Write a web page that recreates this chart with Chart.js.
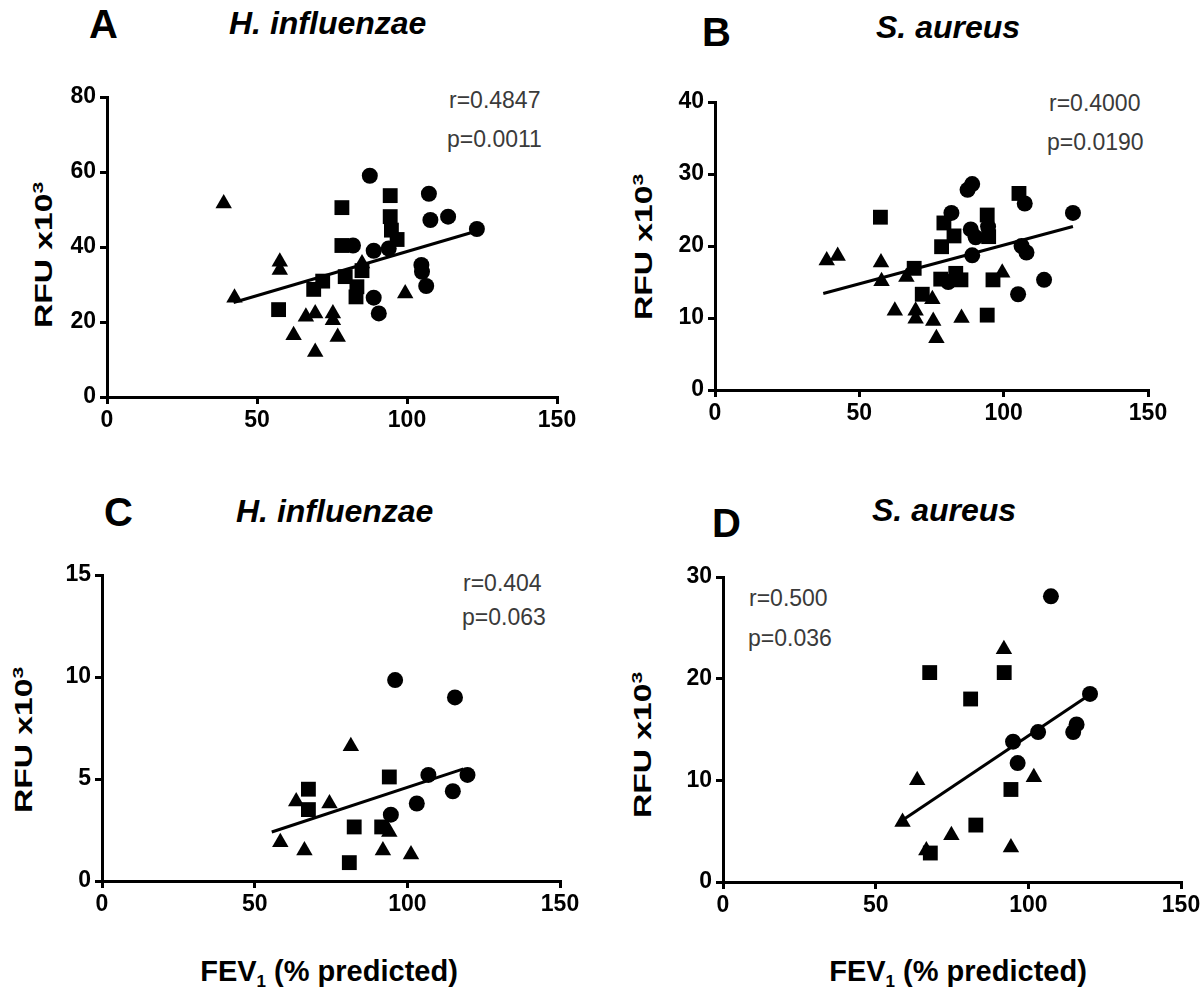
<!DOCTYPE html>
<html>
<head>
<meta charset="utf-8">
<script src="https://cdn.jsdelivr.net/npm/chart.js@4/dist/chart.umd.min.js"></script>
<style>
  body { margin: 0; background: #fff; }
  #page { position: relative; width: 1200px; height: 996px; overflow: hidden; font-family: "Liberation Sans", Arial, sans-serif; }
  canvas { position: absolute; }
  .txt { position: absolute; line-height: 1; white-space: nowrap; }
  .letter { font-size: 40px; font-weight: bold; }
  .title { font-size: 32px; font-weight: bold; font-style: italic; }
  .stat { font-size: 23px; color: #3a3a3a; }
  .ytitle { font-size: 24px; font-weight: bold; transform: translate(-50%, -50%) rotate(-90deg) scaleX(1.4); }
  .ytitle sup { font-size: 15px; vertical-align: 9px; }
  .xtitle { font-size: 29px; font-weight: bold; transform: translateX(-50%); }
  .xtitle sub { font-size: 17px; vertical-align: -6px; }
</style>
</head>
<body>
<div id="page">
  <div class="txt letter" style="left:89px;top:4px">A</div>
  <div class="txt title" style="left:229px;top:7px">H. influenzae</div>
  <div class="txt letter" style="left:702px;top:12px">B</div>
  <div class="txt title" style="left:876px;top:11px">S. aureus</div>
  <div class="txt letter" style="left:104px;top:492px">C</div>
  <div class="txt title" style="left:236px;top:495px">H. influenzae</div>
  <div class="txt letter" style="left:712px;top:503px">D</div>
  <div class="txt title" style="left:872px;top:494px">S. aureus</div>

  <div class="txt stat" style="left:449px;top:89px">r=0.4847</div>
  <div class="txt stat" style="left:447px;top:128px">p=0.0011</div>
  <div class="txt stat" style="left:1049px;top:92px">r=0.4000</div>
  <div class="txt stat" style="left:1047px;top:131px">p=0.0190</div>
  <div class="txt stat" style="left:463px;top:572px">r=0.404</div>
  <div class="txt stat" style="left:462px;top:606px">p=0.063</div>
  <div class="txt stat" style="left:749px;top:587px">r=0.500</div>
  <div class="txt stat" style="left:748px;top:627px">p=0.036</div>

  <div class="txt ytitle" style="left:43px;top:255px">RFU x10<sup>3</sup></div>
  <div class="txt ytitle" style="left:643px;top:247px">RFU x10<sup>3</sup></div>
  <div class="txt ytitle" style="left:23px;top:740px">RFU x10<sup>3</sup></div>
  <div class="txt ytitle" style="left:642px;top:745px">RFU x10<sup>3</sup></div>

  <div class="txt xtitle" style="left:329px;top:957px">FEV<sub>1</sub> (% predicted)</div>
  <div class="txt xtitle" style="left:958px;top:957px">FEV<sub>1</sub> (% predicted)</div>

  <canvas id="chartA"></canvas>
  <canvas id="chartB"></canvas>
  <canvas id="chartC"></canvas>
  <canvas id="chartD"></canvas>
</div>
<script>
//Panel A - H. influenzae (upper)
var aTriangles = [[38.9,51.6],[42.5,26.5],[57.6,36.1],[57.6,33.9],[62.2,16.5],[66.3,21.4],[69.4,22.3],[69.4,12.0],[75.3,22.3],[75.3,20.5],[76.9,16.0],[85.0,35.6],[99.4,27.6]];
var aSquares = [[57.2,23.3],[68.9,28.7],[71.9,30.9],[78.3,50.5],[78.3,40.4],[79.4,32.1],[83.3,29.4],[83.0,26.7],[85.0,33.7],[94.4,53.7],[94.4,48.1],[94.8,44.5],[96.7,42.0]];
var aCircles = [[87.6,59.0],[82.0,40.4],[88.9,39.0],[93.9,39.6],[88.9,26.5],[90.6,22.3],[107.3,54.2],[107.8,47.2],[113.7,48.1],[123.3,44.8],[104.8,35.2],[105.0,33.4],[106.4,29.6]];
var aFit = [[42.2,25.2],[123.0,44.2]];

//Panel B - S. aureus (upper)
var bTriangles = [[38.7,18.0],[42.5,18.6],[57.5,17.7],[57.7,15.1],[66.3,15.7],[62.3,11.0],[69.5,11.0],[69.5,9.9],[75.3,12.6],[75.6,9.6],[76.7,7.2],[85.4,10.0],[99.5,16.3]];
var bSquares = [[57.3,24.0],[69.0,16.9],[71.8,13.3],[79.3,23.2],[78.5,19.9],[82.8,21.4],[78.2,15.4],[83.4,16.2],[85.2,15.3],[94.3,24.3],[94.8,21.3],[94.3,10.4],[96.3,15.3],[105.3,27.3]];
var bCircles = [[81.9,24.6],[87.5,27.8],[89.1,28.6],[88.6,22.3],[90.3,21.2],[89.1,18.7],[94.6,22.7],[80.8,15.0],[105.0,13.3],[114.0,15.3],[107.3,25.9],[106.2,20.0],[107.9,19.1],[124.0,24.6]];
var bFit = [[37.5,13.4],[124.0,22.7]];

//Panel C - H. influenzae (lower)
var cTriangles = [[58.4,1.9],[63.6,3.9],[66.3,1.5],[74.5,3.8],[81.5,6.6],[92.0,1.5],[94.1,2.4],[101.2,1.3]];
var cSquares = [[67.6,4.5],[67.6,3.5],[82.6,2.65],[81.0,0.9],[94.1,5.1],[91.6,2.65]];
var cCircles = [[96.0,9.85],[115.6,9.0],[94.6,3.25],[103.1,3.8],[106.9,5.2],[114.9,4.4],[119.7,5.2]];
var cFit = [[55.6,2.4],[118.4,5.5]];

//Panel D - S. aureus (lower)
var dTriangles = [[58.8,5.9],[63.6,10.0],[66.6,3.1],[74.8,4.6],[92.0,22.9],[94.3,3.4],[101.8,10.3]];
var dSquares = [[67.7,20.6],[67.9,2.85],[81.1,18.0],[82.8,5.6],[92.1,20.6],[94.3,9.1]];
var dCircles = [[107.4,28.1],[120.2,18.5],[103.2,14.75],[95.0,13.8],[96.5,11.7],[114.7,14.75],[115.8,15.5]];
var dFit = [[57.9,5.9],[118.5,18.1]];

//Axis ticks
var xTicks = [0, 50, 100, 150];
var aYTicks = [0, 20, 40, 60, 80];
var bYTicks = [0, 10, 20, 30, 40];
var cYTicks = [0, 5, 10, 15];
var dYTicks = [0, 10, 20, 30];

//--------------------------------------------------------------
var Y_W = 70;   // room for y tick labels
var X_H = 50;   // room for x tick labels
var PAD_T = 20;
var PAD_R = 30;

function toPts(list) {
  var out = [];
  for (var i = 0; i < list.length; i++) {
    out.push({x: list[i][0], y: list[i][1]});
  }
  return out;
}

function markerSet(list, style, radius) {
  return {
    type: 'scatter',
    data: toPts(list),
    pointStyle: style,
    pointRadius: radius,
    pointHoverRadius: radius,
    backgroundColor: '#000',
    borderColor: '#000',
    borderWidth: 0,
    clip: false
  };
}

function axisOpts(ticks, isX) {
  var tickFont = {family: '"Liberation Sans", Arial, sans-serif', size: 23, weight: 'bold'};
  var o = {
    type: 'linear',
    min: ticks[0],
    max: ticks[ticks.length - 1],
    afterBuildTicks: function (axis) {
      axis.ticks = ticks.map(function (v) { return {value: v}; });
    },
    ticks: {color: '#000', font: tickFont, padding: isX ? 3 : 4},
    grid: {drawOnChartArea: false, drawTicks: true, tickLength: 7, color: '#000', lineWidth: 3},
    border: {display: true, color: '#000', width: 3}
  };
  if (isX) {
    o.afterFit = function (scale) { scale.height = X_H; };
  } else {
    o.afterFit = function (scale) { scale.width = Y_W; };
  }
  return o;
}

function makePanel(id, area, tri, sq, cir, fit, yTicks) {
  var cv = document.getElementById(id);
  var w = area.r - area.l + Y_W + PAD_R;
  var h = area.b - area.t + PAD_T + X_H;
  cv.width = w;
  cv.height = h;
  cv.style.left = (area.l - Y_W) + 'px';
  cv.style.top = (area.t - PAD_T) + 'px';
  cv.style.width = w + 'px';
  cv.style.height = h + 'px';

  new Chart(cv.getContext('2d'), {
    type: 'scatter',
    data: {
      datasets: [
        {
          type: 'line',
          data: toPts(fit),
          borderColor: '#000',
          borderWidth: 3,
          pointRadius: 0,
          fill: false,
          clip: false
        },
        markerSet(tri, 'triangle', 9.5),
        markerSet(sq, 'rect', 10.5),
        markerSet(cir, 'circle', 8)
      ]
    },
    options: {
      responsive: false,
      animation: false,
      devicePixelRatio: 1,
      layout: {padding: {left: 0, top: PAD_T, right: PAD_R, bottom: 0}},
      plugins: {legend: {display: false}, tooltip: {enabled: false}},
      scales: {
        x: axisOpts(xTicks, true),
        y: axisOpts(yTicks, false)
      }
    }
  });
}

makePanel('chartA', {l: 107, r: 557, t: 97, b: 397}, aTriangles, aSquares, aCircles, aFit, aYTicks);
makePanel('chartB', {l: 715, r: 1148, t: 102, b: 390}, bTriangles, bSquares, bCircles, bFit, bYTicks);
makePanel('chartC', {l: 102, r: 560, t: 575, b: 881}, cTriangles, cSquares, cCircles, cFit, cYTicks);
makePanel('chartD', {l: 723, r: 1181, t: 577, b: 882}, dTriangles, dSquares, dCircles, dFit, dYTicks);
</script>
</body>
</html>
